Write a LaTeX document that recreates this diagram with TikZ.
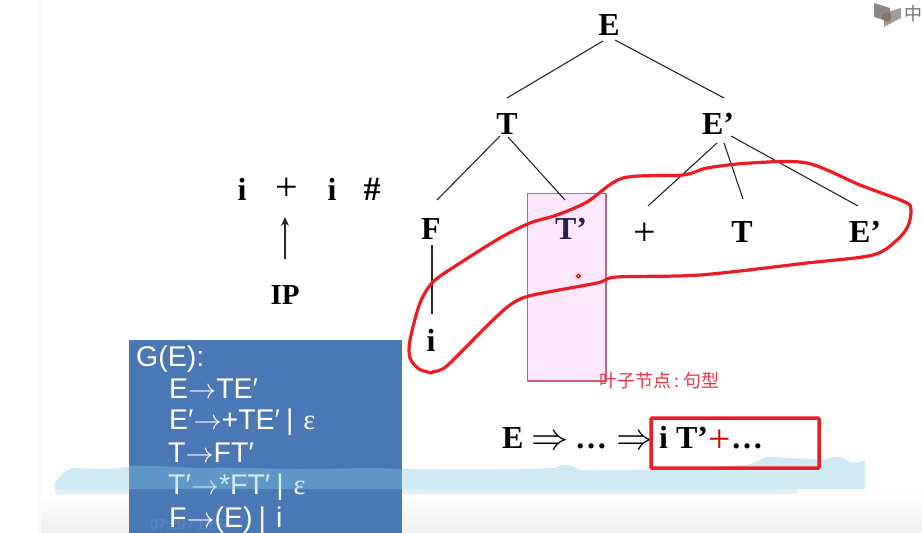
\documentclass[tikz,border=0pt]{standalone}
\usepackage{fontspec}
\setmainfont{Liberation Serif}
\newfontfamily\gramfont{Liberation Sans}
\newfontfamily\cjkfont{Noto Sans CJK SC}
\usetikzlibrary{positioning,calc,arrows.meta}
\definecolor{gramblue}{RGB}{74,120,181}
\definecolor{inkred}{RGB}{237,28,36}
\definecolor{wavecol}{RGB}{131,201,225}
\definecolor{pinkfill}{RGB}{253,232,253}
\definecolor{pinkline}{RGB}{200,96,127}
\newcommand{\garr}{\scalebox{1.13}{$\rightarrow$}}
\newcommand{\gbar}{\hspace{6pt}|\hspace{10pt}}
\newcommand{\darr}{\scalebox{1.5}{$\Rightarrow$}}
\begin{document}
\begin{tikzpicture}[x=1pt,y=-1pt]
    \tikzstyle{sym}=[font=\bfseries\fontsize{32}{32}\selectfont,inner sep=2,anchor=base]
    \tikzstyle{bigsym}=[sym,font=\fontsize{40}{40}\selectfont]
    \tikzstyle{deriv}=[sym,anchor=base west,inner sep=0]
    \tikzstyle{gram}=[font=\gramfont\fontsize{28.5}{28.5}\selectfont,text=white,inner sep=0,anchor=base west]
    \tikzstyle{branch}=[line width=1.1,black!85]
    \useasboundingbox (0,0) rectangle (922,533);
    % page
    \shade[top color=white,bottom color=black!6] (40,490) rectangle (922,533);
    \fill[black!2] (38,0) rectangle (41,533);
    \fill[wavecol!25] (55,489) rectangle (797,494);

    % grammar box
    \fill[gramblue] (128.5,340) rectangle (401.5,533);
    \node[gram] (g0) at (136,366) {G(E):};
    \node[gram] (g1) at (169,398) {E\garr TE′};
    \node[gram] (g2) at (169,429) {E′\garr +TE′\gbar {\rmfamily ε}};
    \node[gram] (g3) at (168,462) {T\garr FT′};
    \node[gram] (g4) at (168,494) {T′\garr *FT′\gbar {\rmfamily ε}};
    \node[gram] (g5) at (169,527) {F\garr (E)\gbar i};
    \node[font=\gramfont\fontsize{14}{14}\selectfont,text=white,opacity=.12,inner sep=0,anchor=base west] (clock) at (150,529) {07:29 / 10:54};

    % wave
    \fill[wavecol,opacity=.39] (55,489) -- (55,483) .. controls (60,476) and (63,470) .. (75,468)
        .. controls (100,469) and (115,470) .. (130,466) .. controls (150,465) and (170,467) .. (200,468)
        .. controls (240,467) and (270,469) .. (300,469) .. controls (340,469) and (370,467) .. (400,469)
        .. controls (450,470) and (520,470) .. (555,468) .. controls (565,463) and (570,465) .. (580,470)
        .. controls (620,471) and (680,469) .. (745,465) .. controls (760,463) and (765,454) .. (775,457)
        .. controls (790,459) and (810,458) .. (825,460) .. controls (835,455) and (840,456) .. (850,462)
        .. controls (855,464) and (860,462) .. (865,460) -- (865,489) -- cycle;

    % sentence box
    \fill[pinkfill] (527.5,193.5) rectangle (606,381);
    \draw[pinkline,line width=1.2] (527.5,193.5) rectangle (606,381);

    % tree
    \node[sym] (rootE) at (609,35) {E};
    \node[sym] (T1) at (507,134) {T};
    \node[sym] (E1) at (718,134) {E’};
    \node[sym] (F1) at (431,239) {F};
    \node[sym,text={rgb,255:red,45;green,30;blue,80}] (T2) at (571,239) {T’};
    \node[bigsym] (plus) at (645,245.5) {+};
    \node[sym] (T3) at (742,242) {T};
    \node[sym] (E2) at (865,242) {E’};
    \node[sym] (leaf) at (431,351) {i};

    \foreach \u/\ux/\uy/\v/\vx/\vy in {
            rootE/-6/6/T1/0/-36, rootE/6/5/E1/6/-36,
            T1/-7/2/F1/6/-39, T1/1/3/T2/-6/-39,
            E1/-1/9/plus/3/-39.5, E1/6/9/T3/1/-43, E1/13/2/E2/-7/-36,
            F1/1/6/leaf/1/-37}
        \draw[branch] ($(\u.base)+(\ux,\uy)$) -- ($(\v.base)+(\vx,\vy)$);

    % input
    \node[sym] (in1) at (242,200) {i};
    \node[bigsym] (in2) at (287,200.5) {+};
    \node[sym] (in3) at (332,200) {i};
    \node[sym,font=\bfseries\fontsize{34}{34}\selectfont] (in4) at (372,200) {\#};
    \node[sym,font=\bfseries\fontsize{29}{29}\selectfont] (ip) at (285,304) {IP};
    \draw[-{Stealth[length=9pt,width=8pt]},line width=1.2,black!85] ($(ip.base)+(0,-45)$) -- ($(in2.base)+(-2,16.5)$);

    % derivation
    \node[deriv] (dE) at (502,448) {E};
    \node[deriv] (darr1) at (531,449.5) {\darr};
    \node[deriv] (ddots) at (575,448) {…};
    \node[deriv] (darr2) at (616,449.5) {\darr};
    \node[deriv] (dform) at (659,448) {i T’};
    \node[bigsym,text=red!85!black] (dplus) at (720,452) {+};
    \node[deriv] (dtail) at (731,448) {…};
    \draw[inkred,line width=3.5,rounded corners=1] (651,418) rectangle (819,468);

    \node[font=\cjkfont\fontsize{18}{18}\selectfont,text={rgb,255:red,240;green,50;blue,75},inner sep=0,anchor=base west] (note) at (599,387) {叶子节点\hspace{3.5pt}:\hspace{3.5pt}句型};

    % hand drawn loop
    \draw[inkred,line width=3.2,line cap=round] plot[smooth,tension=.5] coordinates {
        (432,373) (419,369) (410,358) (410,340) (420,303) (433,282) (457,265) (500,238)
        (530,223) (557,215) (587,202) (623,178) (683,175) (707,168) (750,163) (807,163)
        (860,185) (905,202) (911,210) (908,226) (897,240) (873,255) (807,263) (700,275)
        (617,277) (597,283) (533,295) (513,303) (493,320) (450,363) (440,370) (432,372)};

    % pointer
    \fill[red!25,opacity=.6] (578.5,276) circle (4.5);
    \draw[red!70!black,line width=1,fill=pinkfill] (578.5,276) circle (1.8);

    % player icon
    \fill[black!55,opacity=.85] (874,3) -- (890,8) -- (890,22) -- (874,17) -- cycle;
    \fill[black!45,opacity=.85] (884,13) -- (901,8) -- (901,18) -- (884,27) -- cycle;
    \fill[brown!70!black,opacity=.45] (887,17) circle (5);
    \node[font=\cjkfont\fontsize{18}{18}\selectfont,text=black!55,inner sep=0] (lang) at (913,14) {中};
\end{tikzpicture}
\end{document}
